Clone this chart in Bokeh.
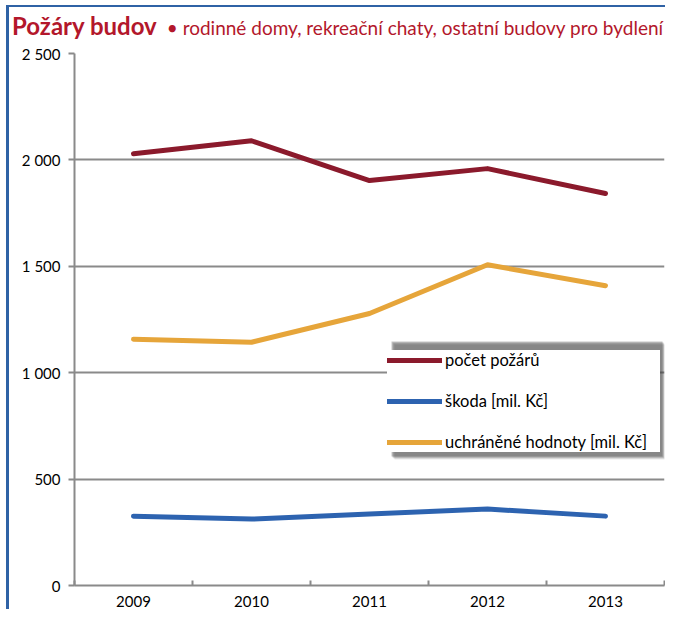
from bokeh.plotting import figure
from bokeh.models import (Range1d, FixedTicker, Legend, LegendItem, BoxAnnotation, Div,
                          CustomJSTickFormatter)
from bokeh.layouts import column
from bokeh.embed import file_html
from bokeh.resources import INLINE

years = ["2009", "2010", "2011", "2012", "2013"]
pocet_pozaru = [2029, 2090, 1903, 1959, 1842]
skoda = [326, 312, 336, 359, 326]
uchranene = [1157, 1143, 1278, 1507, 1409]
y_ticks = [0, 500, 1000, 1500, 2000, 2500]
title_main = "Požáry budov"
title_sub = "rodinné domy, rekreační chaty, ostatní budovy pro bydlení"

FONT = "Lato"
# reference-picture pixel layout
OX, OY = 9, 7           # content origin (inside the blue border)
DIV_H = 36
FIG_TOP = OY + DIV_H    # 43
FL, FT, FR, FB = 74, 53, 664, 585
W = 665 - OX
H = 609 - FIG_TOP

xs = [i + 0.5 for i in range(len(years))]

p = figure(width=W, height=H, output_backend="svg", toolbar_location=None,
           x_range=Range1d(0, len(years)), y_range=Range1d(0, 2500),
           min_border_left=FL - OX, min_border_right=665 - FR, min_border_top=FT - FIG_TOP,
           min_border_bottom=609 - FB)
p.margin = 0
p.outline_line_color = None
p.background_fill_color = "white"
p.border_fill_color = "white"

GRAY = "#8a8a8a"
p.xaxis.ticker = FixedTicker(ticks=xs, minor_ticks=list(range(len(years) + 1)))
p.xaxis.major_label_overrides = {x: y for x, y in zip(xs, years)}
p.xaxis.major_tick_line_color = None
p.xaxis.minor_tick_line_color = GRAY
p.xaxis.minor_tick_line_width = 2
p.xaxis.minor_tick_in = 5
p.xaxis.minor_tick_out = 0
p.xaxis.axis_line_color = GRAY
p.xaxis.axis_line_width = 2
p.xaxis.major_label_text_font = FONT
p.xaxis.major_label_text_font_size = "15px"
p.xaxis.major_label_text_color = "black"
p.xaxis.major_label_standoff = 4
p.xgrid.grid_line_color = None

p.yaxis.ticker = FixedTicker(ticks=y_ticks)
p.yaxis.formatter = CustomJSTickFormatter(code="""
    return tick.toFixed(0).replace(/\\B(?=(\\d{3})+(?!\\d))/g, ' ');
""")
p.yaxis.axis_line_color = GRAY
p.yaxis.axis_line_width = 2
p.yaxis.major_tick_line_color = GRAY
p.yaxis.major_tick_line_width = 2
p.yaxis.major_tick_in = 0
p.yaxis.major_tick_out = 6
p.yaxis.minor_tick_line_color = None
p.yaxis.major_label_text_font = FONT
p.yaxis.major_label_text_font_size = "15px"
p.yaxis.major_label_text_color = "black"
p.yaxis.major_label_standoff = 8
p.ygrid.grid_line_color = GRAY
p.ygrid.grid_line_width = 2

r1 = p.line(xs, pocet_pozaru, line_color="#8b1a2c", line_width=5, line_cap="round", line_join="round")
r2 = p.line(xs, skoda, line_color="#2d63b0", line_width=5, line_cap="round", line_join="round")
r3 = p.line(xs, uchranene, line_color="#e6a53a", line_width=5, line_cap="round", line_join="round")


def sbox(l, t, r, b, **kw):
    """box in reference px (top-left origin) -> frame-relative screen units"""
    return BoxAnnotation(left=l - FL, right=r - FL, bottom=FB - b, top=FB - t,
                         left_units="screen", right_units="screen",
                         bottom_units="screen", top_units="screen", line_color=None, **kw)


LX0, LY0, LX1, LY1 = 387, 337, 658, 452
for d, a in [(7, 0.12), (6, 0.18), (5, 0.25), (4, 0.3)]:
    p.add_layout(sbox(LX0 + d, LY0 + d, LX1 + d, LY1 + d, fill_color="#404040", fill_alpha=a))

legend = Legend(items=[LegendItem(label="počet požárů", renderers=[r1]),
                       LegendItem(label="škoda [mil. Kč]", renderers=[r2]),
                       LegendItem(label="uchráněné hodnoty [mil. Kč]", renderers=[r3])],
                location=(LX0 - FL, FB - LY1), orientation="vertical")
legend.label_text_font = FONT
legend.label_text_font_size = "16.5px"
legend.label_text_color = "black"
legend.glyph_width = 55
legend.glyph_height = 20
legend.label_height = 20
legend.label_width = 215
legend.spacing = 21
legend.padding = 8
legend.margin = 0
legend.label_standoff = 3
legend.border_line_color = None
legend.background_fill_color = "white"
legend.background_fill_alpha = 1
p.add_layout(legend, "center")

div = Div(width=W, height=DIV_H, text=(
    f'<div style="font-family:Lato;color:#b3172b;white-space:nowrap;'
    f'line-height:30px;padding-left:3px;padding-top:4px;margin:0">'
    f'<span style="font-weight:bold;font-size:24px">{title_main}</span>'
    f'<span style="font-size:19px;margin-left:10px">&bull;&nbsp;{title_sub}</span></div>'))
div.margin = 0

layout = column(div, p, spacing=0,
                styles={"border-left": "3px solid #2f62a5", "border-top": "2px solid #2f62a5"})
layout.margin = (5, 0, 0, 6)

open("out.html", "w").write(file_html(layout, INLINE))
